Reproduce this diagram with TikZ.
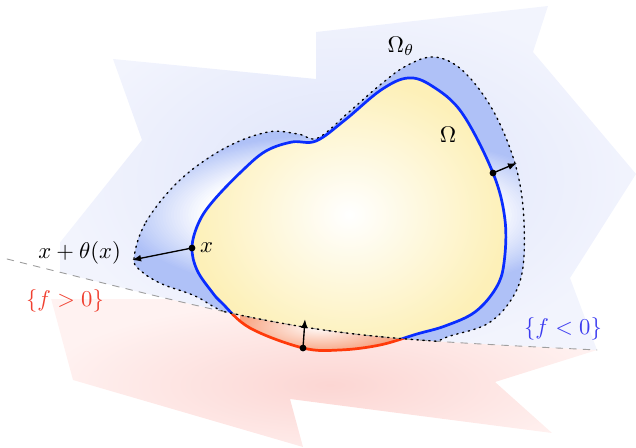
\documentclass[tikz,border=0pt]{standalone}
\usepackage{amsmath,amssymb}
\usepackage{xcolor}
\usepackage{tikz}
\usetikzlibrary{arrows.meta}
\definecolor{sdSky}{HTML}{DDE3FA}
\definecolor{sdSkyPale}{HTML}{F2F4FD}
\definecolor{sdBlush}{HTML}{FCD6D3}
\definecolor{sdBlushPale}{HTML}{FFF2F1}
\definecolor{sdRing}{HTML}{AFC1F7}
\definecolor{sdSun}{HTML}{FDF0B8}
\definecolor{sdEmber}{HTML}{F8A583}
\definecolor{sdBlue}{HTML}{0A2DFF}
\definecolor{sdRed}{HTML}{FF3A0A}
\definecolor{sdNeg}{HTML}{3C3CF0}
\definecolor{sdPos}{HTML}{F04030}
\newcommand{\levelpath}{(7,259) .. controls (314,336) .. (597,350)}
\newcommand{\splashpath}{(113,59) -- (316,79) -- (316,32) -- (548,6) -- (533,52) -- (636,174) -- (570,278) -- (597,350) -- (495,382) -- (552,433) -- (290,399) -- (303,447) -- (73,380) -- (42,265) -- (142,140) -- cycle}
\newcommand{\omegapath}{plot[smooth cycle, tension=0.6] coordinates {(408,78) (432,86) (462,113) (493,173) (505,220) (504,263) (496,288) (475,312) (445,326) (417,334) (380,345) (340,350) (303,348) (250,328) (222,303) (212,292) (197,270) (192,247) (199,222) (214,200) (243,170) (266,151) (292,142) (316,141) (345,120) (381,90)}}
\newcommand{\thetapath}{plot[smooth cycle, tension=0.6] coordinates {(134,258) (146,222) (180,180) (225,148) (268,132) (298,134) (318,138) (349,112) (380,85) (406,66) (434,57) (462,70) (491,107) (513,157) (523,207) (523,267) (511,300) (487,324) (450,336) (420,345) (320,354) (228,314) (195,296) (162,284) (141,271)}}
\tikzset{
  sd diagram/.style={line cap=round, line join=round},
  sd level/.style={draw=gray!75, dashed, line width=0.4pt},
  sd theta edge/.style={draw=black, dotted, line width=0.6pt},
  sd omega edge/.style={draw=sdBlue, line width=1.2pt},
  sd dot/.style={circle, fill=black, inner sep=0pt, minimum size=3pt},
  sd arrow/.style={-{Latex[length=4pt]}, line width=0.6pt},
  sd sign/.style={font=\normalsize}
}

\begin{document}
\begin{tikzpicture}[x=0.0155cm, y=-0.0155cm, sd diagram]
\useasboundingbox (0,0) rectangle (636,448);
\begin{scope}
  \clip \levelpath -- (636,350) -- (636,0) -- (0,0) -- (0,259) -- cycle;
  \clip \splashpath;
  \shade[inner color=sdSky, outer color=sdSkyPale] (60,0) rectangle (640,360);
\end{scope}
\begin{scope}
  \clip \levelpath -- (636,350) -- (636,448) -- (0,448) -- (0,259) -- cycle;
  \clip \splashpath;
  \shade[inner color=sdBlush, outer color=sdBlushPale] (40,300) rectangle (620,470);
\end{scope}
\begin{scope}
  \clip \levelpath -- (636,350) -- (636,0) -- (0,0) -- (0,259) -- cycle;
  \begin{scope}
    \clip \thetapath;
    \fill[sdRing] (100,40) rectangle (600,380);
    \foreach \k in {0,...,30} {
      \pgfmathsetmacro{\ringr}{0.86-0.32*\k/30}
      \pgfmathsetmacro{\ringmix}{100-100*\k/30}
      \fill[sdRing!\ringmix!white] (350,215) ellipse [x radius={268*\ringr}, y radius={95*\ringr}];
    }
  \end{scope}
  \draw[sd theta edge] \thetapath;
  \shade[inner color=white, outer color=sdSun] \omegapath;
  \draw[sd omega edge] \omegapath;
\end{scope}
\begin{scope}
  \clip \levelpath -- (636,350) -- (636,448) -- (0,448) -- (0,259) -- cycle;
  \begin{scope}
    \clip \omegapath;
    \shade[inner color=white, outer color=sdEmber] (240,300) rectangle (400,352);
  \end{scope}
  \draw[sd omega edge, draw=sdRed] \omegapath;
\end{scope}
\draw[sd level] \levelpath;
\begin{scope}
  \clip \thetapath;
  \draw[sd theta edge] \levelpath;
\end{scope}
\node[sd dot] (xdot) at (192,248) {};
\node[sd dot] (rdot) at (493,173) {};
\node[sd dot] (bdot) at (303,348) {};
\coordinate (ximg) at (132,260);
\coordinate (rimg) at (517,163);
\coordinate (bimg) at (305,319);
\draw[sd arrow] (xdot.center) -- (ximg);
\draw[sd arrow] (rdot.center) -- (rimg);
\draw[sd arrow] (bdot.center) -- (bimg);
\node[anchor=east] (ximglbl) at (129,253) {$x+\theta(x)$};
\node[right] (xlbl) at (xdot) {$x$};
\node (thetalbl) at (401,46) {$\Omega_\theta$};
\node (omegalbl) at (448,135) {$\Omega$};
\node[sd sign, text=sdPos] (poslbl) at (65,301) {$\{f>0\}$};
\node[sd sign, text=sdNeg] (neglbl) at (563,329) {$\{f<0\}$};
\end{tikzpicture}
\end{document}
